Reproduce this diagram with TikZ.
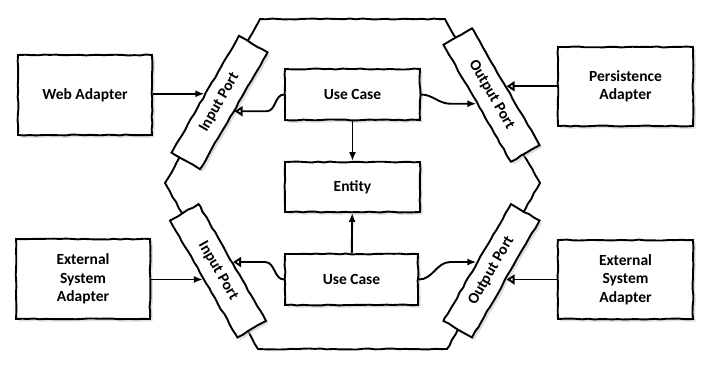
\documentclass[tikz,border=0pt]{standalone}
\usepackage{fontspec}
\setmainfont{Carlito}
\usetikzlibrary{arrows.meta,shadows,calc,decorations.pathmorphing}
\begin{document}
\begin{tikzpicture}[x=1pt,y=-1pt,
  sketch/.style={decorate,decoration={random steps,segment length=6pt,amplitude=0.5pt}},
  box/.style={draw,line width=1.9pt,fill=white,sketch,
    drop shadow={shadow xshift=2.5pt,shadow yshift=-2.5pt,fill=black!25},
    font=\bfseries\fontsize{15.5}{18.5}\selectfont,align=center,inner sep=0pt},
  port/.style={box,minimum width=135pt,minimum height=33pt},
  conn/.style={line width=1.9pt},
  fa/.style={conn,-{Latex[length=9pt,width=7pt]}},
  oa/.style={conn,-{Triangle[open,length=8pt,width=10pt]}}]
\useasboundingbox (0,0) rectangle (711,367);

% hexagon
\draw[conn,sketch] (260,19) -- (445,19) -- (540,183) -- (447,349) -- (258,349) -- (165,183) -- cycle;

% boxes
\node[box,minimum width=134pt,minimum height=80pt] (wa) at (85,95) {Web Adapter};
\node[box,minimum width=135pt,minimum height=79pt] (pa) at (625.5,86.5) {Persistence\\Adapter};
\node[box,minimum width=134pt,minimum height=80pt] (ea1) at (83,279) {External\\System\\Adapter};
\node[box,minimum width=135pt,minimum height=79pt] (ea2) at (625.5,279.5) {External\\System\\Adapter};

\node[box,minimum width=135pt,minimum height=51pt] (uc1) at (352.5,94.5) {Use Case};
\node[box,minimum width=135pt,minimum height=50pt] (ent) at (352.5,187) {Entity};
\node[box,minimum width=133pt,minimum height=51pt] (uc2) at (351.5,279.5) {Use Case};

% ports
\node[port,rotate=60] (ip1) at (219.5,102.5) {Input Port};
\node[port,rotate=-60] (op1) at (491.5,95) {Output Port};
\node[port,rotate=-60] (ip2) at (218,270.75) {Input Port};
\node[port,rotate=60] (op2) at (491.5,270.75) {Output Port};

% connectors
\draw[fa] (wa.east |- ip1.north) -- (ip1.north);
\draw[oa] (pa.west |- op1.north) -- (op1.north);
\draw[fa] (ea1.east |- ip2.south) -- (ip2.south);
\draw[oa] (ea2.west |- op2.south) -- (op2.south);

\draw[oa] (uc1.west) to[out=180,in=0] ($(ip1.south)+(32,0)$) -- (ip1.south);
\draw[fa] (uc1.east) to[out=0,in=180] ($(op1.south)+(-26,0)$) -- (op1.south);
\draw[oa] (uc2.west) to[out=180,in=0] ($(ip2.north)+(32,0)$) -- (ip2.north);
\draw[fa] (uc2.east) to[out=0,in=180] ($(op2.north)+(-26,0)$) -- (op2.north);

\draw[fa] (uc1) -- (ent);
\draw[fa] (uc2) -- (ent);
\end{tikzpicture}
\end{document}
